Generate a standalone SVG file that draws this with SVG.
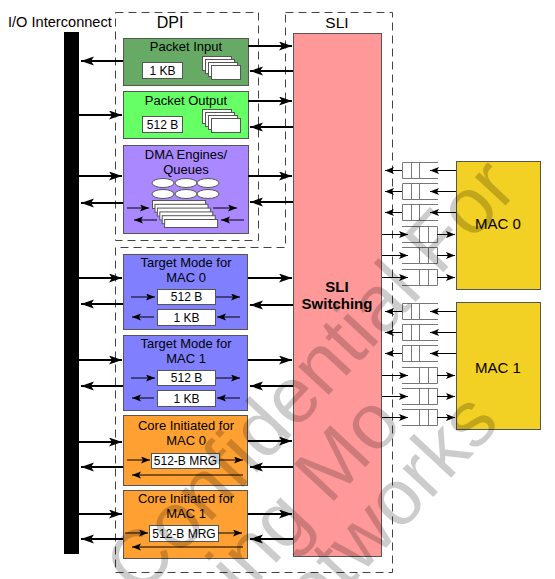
<svg xmlns="http://www.w3.org/2000/svg" width="555" height="579" viewBox="0 0 555 579">
<style>
text{font-family:"Liberation Sans",Arial,sans-serif;fill:#000}
.t13{font-size:13px;text-anchor:middle}
.t12{font-size:12px;text-anchor:middle}
.box{stroke:#555;stroke-width:1}
.wb{fill:#fff;stroke:#555;stroke-width:1}
.dash{fill:none;stroke:#444;stroke-width:1;stroke-dasharray:8,5}
.a{fill:none;stroke:#000;stroke-width:2;marker-end:url(#ah)}
.s{fill:none;stroke:#000;stroke-width:1;marker-end:url(#sh)}
.q{fill:none;stroke:#777;stroke-width:1}
.wm{font-size:79px;fill:#000;fill-opacity:0.2}
</style>
<defs>
<marker id="ah" markerUnits="userSpaceOnUse" markerWidth="14" markerHeight="10" refX="13" refY="4.5" orient="auto" viewBox="0 0 14 10"><path d="M0,0 L13,4.5 L0,9 L3,4.5 Z" fill="#000"/></marker>
<marker id="sh" markerUnits="userSpaceOnUse" markerWidth="10" markerHeight="8" refX="9" refY="3.5" orient="auto" viewBox="0 0 10 8"><path d="M0,0 L9,3.5 L0,7 L2,3.5 Z" fill="#000"/></marker>
</defs>
<rect width="555" height="579" fill="#fff"/>

<g id="regions">
<rect class="dash" x="115.5" y="12.5" width="143" height="228"/>
<path class="dash" d="M285.5,12.5 H392.5 V572.5 H115.5 V247.5 H285.5 Z"/>
<text x="170" y="28" style="font-size:16px;text-anchor:middle">DPI</text>
<text x="337" y="28" style="font-size:15.5px;text-anchor:middle">SLI</text>
</g>

<g id="io">
<text x="8" y="27" style="font-size:14.6px">I/O Interconnect</text>
<rect x="64" y="32" width="15" height="522" fill="#000"/>
</g>

<g id="sli">
<rect class="box" x="293.5" y="33.5" width="88" height="523" fill="#FF9999"/>
<text x="337" y="292" style="font-size:15px;font-weight:bold;text-anchor:middle">SLI</text>
<text x="337" y="309" style="font-size:15px;font-weight:bold;text-anchor:middle">Switching</text>
</g>

<g id="packet-input">
<rect class="box" x="123.5" y="38.5" width="125" height="47" fill="#66AA66"/>
<text class="t13" x="186" y="51">Packet Input</text>
<rect class="wb" x="142.5" y="62.5" width="40" height="16"/>
<text class="t12" x="162.5" y="75">1 KB</text>
<rect class="wb" x="202.5" y="56.5" width="29" height="14"/>
<rect class="wb" x="205.5" y="59.5" width="29" height="14"/>
<rect class="wb" x="208.5" y="62.5" width="29" height="14"/>
<rect class="wb" x="211.5" y="65.5" width="29" height="14"/>
</g>

<g id="packet-output">
<rect class="box" x="123.5" y="91.5" width="125" height="47" fill="#66FF66"/>
<text class="t13" x="186" y="105">Packet Output</text>
<rect class="wb" x="142.5" y="116.5" width="40" height="16"/>
<text class="t12" x="162.5" y="129">512 B</text>
<rect class="wb" x="202.5" y="109.5" width="29" height="14"/>
<rect class="wb" x="205.5" y="112.5" width="29" height="14"/>
<rect class="wb" x="208.5" y="115.5" width="29" height="14"/>
<rect class="wb" x="211.5" y="118.5" width="29" height="14"/>
</g>

<g id="dma">
<rect class="box" x="123.5" y="145.5" width="125" height="88" fill="#AA88FF"/>
<text class="t13" x="186" y="159">DMA Engines/</text>
<text class="t13" x="186" y="174">Queues</text>
<g class="wb">
<ellipse cx="163" cy="183" rx="11" ry="4.5"/><ellipse cx="186" cy="183" rx="11" ry="4.5"/><ellipse cx="208" cy="183" rx="11" ry="4.5"/>
<ellipse cx="163" cy="194" rx="11" ry="4.5"/><ellipse cx="186" cy="194" rx="11" ry="4.5"/><ellipse cx="208" cy="194" rx="11" ry="4.5"/>
<rect x="152.5" y="200.5" width="53" height="8"/>
<rect x="155" y="204.3" width="53" height="8"/>
<rect x="157.4" y="208.1" width="53" height="8"/>
<rect x="159.8" y="211.9" width="53" height="8"/>
<rect x="162.2" y="215.7" width="53" height="8"/>
<rect x="164.6" y="219.5" width="53" height="8"/>
</g>
<path class="s" d="M127,208 H149"/><path class="s" d="M213,208 H237"/>
<path class="s" d="M157,220 H134"/><path class="s" d="M244,220 H221"/>
</g>

<g id="target-mac0">
<rect class="box" x="123.5" y="254.5" width="124" height="75" fill="#8080FF"/>
<text class="t13" x="186" y="267">Target Mode for</text>
<text class="t13" x="186" y="282">MAC 0</text>
<rect class="wb" x="157.5" y="289.5" width="58" height="15"/>
<text class="t12" x="186.5" y="301">512 B</text>
<rect class="wb" x="157.5" y="309.5" width="58" height="16"/>
<text class="t12" x="186.5" y="322">1 KB</text>
<path class="s" d="M131,297 H155"/><path class="s" d="M216,297 H240"/>
<path class="s" d="M154,317 H132"/><path class="s" d="M240,317 H217"/>
</g>

<g id="target-mac1">
<rect class="box" x="123.5" y="335.5" width="124" height="75" fill="#8080FF"/>
<text class="t13" x="186" y="348">Target Mode for</text>
<text class="t13" x="186" y="363">MAC 1</text>
<rect class="wb" x="157.5" y="370.5" width="58" height="15"/>
<text class="t12" x="186.5" y="382">512 B</text>
<rect class="wb" x="157.5" y="390.5" width="58" height="16"/>
<text class="t12" x="186.5" y="403">1 KB</text>
<path class="s" d="M131,378 H155"/><path class="s" d="M216,378 H240"/>
<path class="s" d="M154,398 H132"/><path class="s" d="M240,398 H217"/>
</g>

<g id="core-mac0">
<rect class="box" x="123.5" y="415.5" width="124" height="70" fill="#FFA033"/>
<text class="t13" x="186" y="430">Core Initiated for</text>
<text class="t13" x="186" y="445">MAC 0</text>
<rect class="wb" x="151.5" y="453.5" width="68" height="15"/>
<text class="t12" x="185.5" y="465">512-B MRG</text>
<path class="s" d="M127,460 H150"/><path class="s" d="M219,460 H243"/>
<path class="s" d="M243,475 H132"/>
</g>

<g id="core-mac1">
<rect class="box" x="123.5" y="490.5" width="124" height="68" fill="#FFA033"/>
<text class="t13" x="186" y="503">Core Initiated for</text>
<text class="t13" x="186" y="518">MAC 1</text>
<rect class="wb" x="149.5" y="525.5" width="69" height="16"/>
<text class="t12" x="184" y="538">512-B MRG</text>
<path class="s" d="M125,533 H148"/><path class="s" d="M218,533 H242"/>
<path class="s" d="M243,547 H132"/>
</g>

<g id="mac0">
<rect class="box" x="456.5" y="161.5" width="84" height="128" fill="#F2D024"/>
<text x="498" y="229" style="font-size:15px;text-anchor:middle">MAC 0</text>
</g>
<g id="mac1">
<rect class="box" x="456.5" y="302.5" width="84" height="127" fill="#F2D024"/>
<text x="498" y="373" style="font-size:15px;text-anchor:middle">MAC 1</text>
</g>

<g id="queues">
<path class="q" d="M438,162.5 H402.5 V178.5 H438 M411.5,162.5 V178.5 M419.5,162.5 V178.5"/>
<path class="q" d="M438,183.5 H402.5 V199.5 H438 M411.5,183.5 V199.5 M419.5,183.5 V199.5"/>
<path class="q" d="M438,204.5 H402.5 V220.5 H438 M411.5,204.5 V220.5 M419.5,204.5 V220.5"/>
<path class="q" d="M402,226.5 H437.5 V242.5 H402 M419.5,226.5 V242.5 M428.5,226.5 V242.5"/>
<path class="q" d="M402,247.5 H437.5 V263.5 H402 M419.5,247.5 V263.5 M428.5,247.5 V263.5"/>
<path class="q" d="M402,269.5 H437.5 V285.5 H402 M419.5,269.5 V285.5 M428.5,269.5 V285.5"/>
<path class="q" d="M438,303.5 H402.5 V319.5 H438 M411.5,303.5 V319.5 M419.5,303.5 V319.5"/>
<path class="q" d="M438,324.5 H402.5 V340.5 H438 M411.5,324.5 V340.5 M419.5,324.5 V340.5"/>
<path class="q" d="M438,345.5 H402.5 V361.5 H438 M411.5,345.5 V361.5 M419.5,345.5 V361.5"/>
<path class="q" d="M402,367.5 H437.5 V383.5 H402 M419.5,367.5 V383.5 M428.5,367.5 V383.5"/>
<path class="q" d="M402,388.5 H437.5 V404.5 H402 M419.5,388.5 V404.5 M428.5,388.5 V404.5"/>
<path class="q" d="M402,409.5 H437.5 V425.5 H402 M419.5,409.5 V425.5 M428.5,409.5 V425.5"/>
</g>

<g id="connectors">
<path class="a" d="M123,61 H81"/>
<path class="a" d="M79,115 H122"/>
<path class="a" d="M79,176 H122"/>
<path class="a" d="M123,203 H81"/>
<path class="a" d="M79,278 H122"/>
<path class="a" d="M123,304 H81"/>
<path class="a" d="M79,360 H122"/>
<path class="a" d="M123,386 H81"/>
<path class="a" d="M79,442 H122"/>
<path class="a" d="M123,467 H81"/>
<path class="a" d="M79,514 H122"/>
<path class="a" d="M123,539 H81"/>
<path class="a" d="M248,46 H292"/>
<path class="a" d="M293,71 H250"/>
<path class="a" d="M248,101 H292"/>
<path class="a" d="M293,127 H250"/>
<path class="a" d="M248,176 H292"/>
<path class="a" d="M293,202 H250"/>
<path class="a" d="M248,278 H292"/>
<path class="a" d="M293,305 H250"/>
<path class="a" d="M248,360 H292"/>
<path class="a" d="M293,386 H250"/>
<path class="a" d="M248,441 H292"/>
<path class="a" d="M293,467 H250"/>
<path class="a" d="M248,514 H292"/>
<path class="a" d="M293,539 H250"/>
<path class="s" d="M456,170.5 H430"/><path class="s" d="M402,170.5 H385"/>
<path class="s" d="M456,191.5 H430"/><path class="s" d="M402,191.5 H385"/>
<path class="s" d="M456,212.5 H430"/><path class="s" d="M402,212.5 H385"/>
<path class="s" d="M382,234.5 H408"/><path class="s" d="M437,234.5 H455"/>
<path class="s" d="M382,255.5 H408"/><path class="s" d="M437,255.5 H455"/>
<path class="s" d="M382,277.5 H408"/><path class="s" d="M437,277.5 H455"/>
<path class="s" d="M456,311.5 H430"/><path class="s" d="M402,311.5 H385"/>
<path class="s" d="M456,332.5 H430"/><path class="s" d="M402,332.5 H385"/>
<path class="s" d="M456,353.5 H430"/><path class="s" d="M402,353.5 H385"/>
<path class="s" d="M382,375.5 H408"/><path class="s" d="M437,375.5 H455"/>
<path class="s" d="M382,396.5 H408"/><path class="s" d="M437,396.5 H455"/>
<path class="s" d="M382,417.5 H408"/><path class="s" d="M437,417.5 H455"/>
</g>

<g id="watermark" transform="translate(139.4,598.2) rotate(-47)">
<text class="wm" x="0" y="0">Confidential For</text>
<text class="wm" x="26" y="76">Ling Mo</text>
<text class="wm" x="45" y="146">Networks</text>
</g>
</svg>
